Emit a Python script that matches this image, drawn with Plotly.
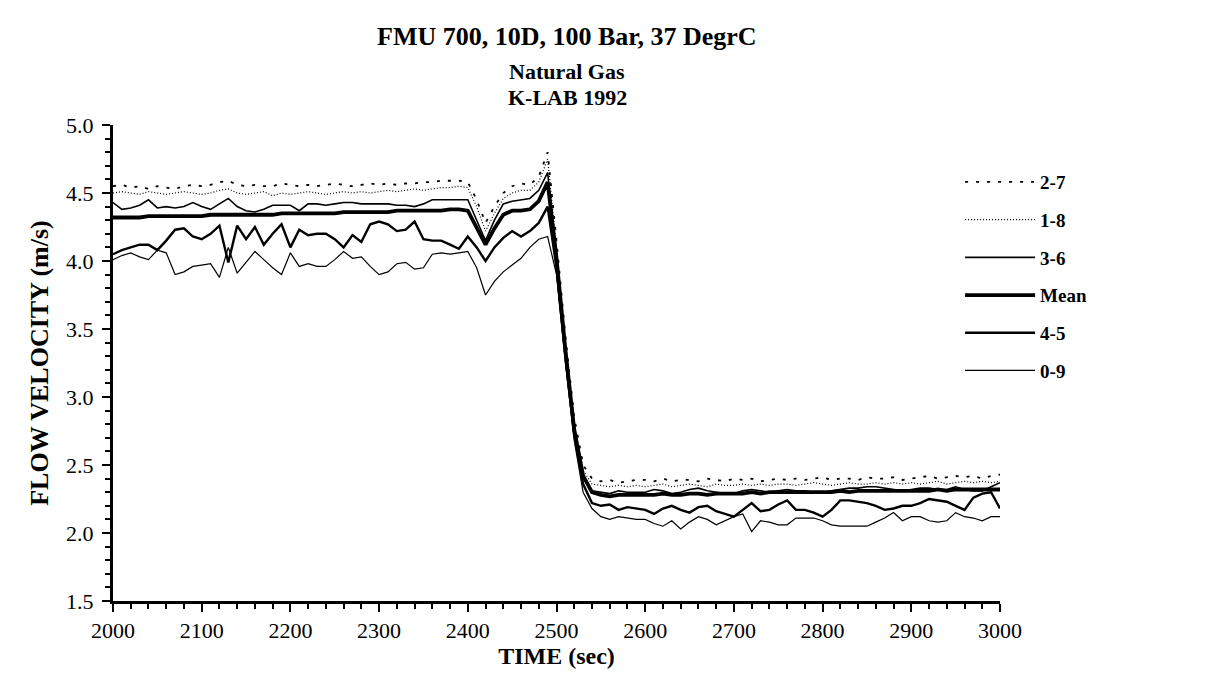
import plotly.graph_objects as go

# ---------------- data ----------------
time_s = list(range(2000, 3001, 10))

s27 = [4.55, 4.56, 4.54, 4.55, 4.53, 4.55, 4.54, 4.53, 4.55, 4.56,
       4.55, 4.56, 4.58, 4.59, 4.56, 4.55, 4.56, 4.55, 4.55, 4.57,
       4.56, 4.55, 4.56, 4.55, 4.56, 4.57, 4.56, 4.55, 4.56, 4.57,
       4.56, 4.57, 4.56, 4.57, 4.57, 4.58, 4.58, 4.59, 4.59, 4.59,
       4.58, 4.45, 4.28, 4.40, 4.50, 4.55, 4.57, 4.56, 4.62, 4.80,
       4.15, 3.45, 2.85, 2.50, 2.40, 2.38, 2.39, 2.37, 2.38, 2.39,
       2.39, 2.38, 2.40, 2.38, 2.39, 2.39, 2.38, 2.40, 2.39, 2.38,
       2.40, 2.39, 2.40, 2.38, 2.39, 2.40, 2.39, 2.40, 2.39, 2.40,
       2.41, 2.39, 2.40, 2.40, 2.39, 2.41, 2.40, 2.40, 2.41, 2.39,
       2.40, 2.41, 2.42, 2.40, 2.41, 2.42, 2.41, 2.42, 2.40, 2.42,
       2.43]

s18 = [4.50, 4.51, 4.50, 4.49, 4.51, 4.50, 4.49, 4.50, 4.51, 4.50,
       4.49, 4.50, 4.52, 4.53, 4.50, 4.49, 4.50, 4.51, 4.48, 4.50,
       4.49, 4.50, 4.51, 4.50, 4.49, 4.50, 4.51, 4.50, 4.51, 4.50,
       4.51, 4.52, 4.51, 4.52, 4.53, 4.52, 4.53, 4.54, 4.54, 4.55,
       4.54, 4.40, 4.22, 4.35, 4.46, 4.50, 4.52, 4.52, 4.58, 4.75,
       4.10, 3.40, 2.80, 2.46, 2.36, 2.35, 2.34, 2.35, 2.34, 2.35,
       2.34, 2.35, 2.36, 2.34, 2.35, 2.36, 2.35, 2.34, 2.36, 2.35,
       2.35, 2.36, 2.35, 2.36, 2.35, 2.36, 2.36, 2.35, 2.36, 2.37,
       2.36, 2.35, 2.36, 2.37, 2.36, 2.36, 2.37, 2.36, 2.37, 2.36,
       2.37, 2.36, 2.37, 2.38, 2.36, 2.37, 2.38, 2.37, 2.38, 2.37,
       2.38]

s36 = [4.43, 4.38, 4.39, 4.41, 4.45, 4.39, 4.40, 4.39, 4.40, 4.43,
       4.40, 4.38, 4.42, 4.46, 4.40, 4.37, 4.36, 4.38, 4.41, 4.41,
       4.41, 4.37, 4.42, 4.42, 4.41, 4.42, 4.43, 4.43, 4.42, 4.42,
       4.42, 4.42, 4.41, 4.41, 4.40, 4.42, 4.45, 4.45, 4.45, 4.45,
       4.45, 4.30, 4.15, 4.30, 4.42, 4.44, 4.45, 4.46, 4.52, 4.65,
       4.05, 3.37, 2.78, 2.42, 2.31, 2.30, 2.29, 2.31, 2.30, 2.30,
       2.30, 2.32, 2.31, 2.29, 2.30, 2.32, 2.33, 2.31, 2.30, 2.29,
       2.29, 2.31, 2.32, 2.31, 2.30, 2.31, 2.32, 2.31, 2.31, 2.30,
       2.30, 2.31, 2.32, 2.33, 2.33, 2.34, 2.34, 2.33, 2.32, 2.31,
       2.32, 2.33, 2.33, 2.32, 2.32, 2.34, 2.32, 2.31, 2.31, 2.34,
       2.37]

mean = [4.32, 4.32, 4.32, 4.32, 4.33, 4.33, 4.33, 4.33, 4.33, 4.33,
        4.33, 4.34, 4.34, 4.34, 4.34, 4.34, 4.34, 4.34, 4.34, 4.35,
        4.35, 4.35, 4.35, 4.35, 4.35, 4.35, 4.36, 4.36, 4.36, 4.36,
        4.36, 4.36, 4.37, 4.37, 4.37, 4.37, 4.37, 4.37, 4.38, 4.38,
        4.37, 4.25, 4.12, 4.24, 4.34, 4.37, 4.37, 4.38, 4.44, 4.58,
        4.02, 3.35, 2.76, 2.42, 2.30, 2.28, 2.27, 2.28, 2.28, 2.28,
        2.28, 2.28, 2.29, 2.28, 2.28, 2.29, 2.29, 2.28, 2.29, 2.29,
        2.29, 2.29, 2.30, 2.29, 2.30, 2.30, 2.30, 2.30, 2.30, 2.30,
        2.30, 2.30, 2.31, 2.30, 2.31, 2.31, 2.31, 2.31, 2.31, 2.31,
        2.31, 2.31, 2.31, 2.32, 2.31, 2.32, 2.32, 2.32, 2.32, 2.32,
        2.32]

s45 = [4.05, 4.08, 4.10, 4.12, 4.12, 4.08, 4.15, 4.23, 4.24, 4.18,
       4.16, 4.20, 4.26, 3.99, 4.26, 4.16, 4.25, 4.12, 4.20, 4.27,
       4.10, 4.23, 4.19, 4.20, 4.20, 4.16, 4.10, 4.19, 4.14, 4.27,
       4.29, 4.27, 4.22, 4.23, 4.29, 4.16, 4.15, 4.15, 4.12, 4.09,
       4.18, 4.10, 4.00, 4.10, 4.17, 4.22, 4.18, 4.22, 4.28, 4.40,
       3.95, 3.30, 2.72, 2.36, 2.22, 2.20, 2.21, 2.17, 2.19, 2.18,
       2.17, 2.14, 2.18, 2.20, 2.17, 2.15, 2.19, 2.20, 2.16, 2.14,
       2.12, 2.17, 2.22, 2.16, 2.17, 2.21, 2.24, 2.17, 2.17, 2.15,
       2.12, 2.17, 2.24, 2.24, 2.23, 2.22, 2.20, 2.17, 2.18, 2.20,
       2.20, 2.22, 2.25, 2.24, 2.23, 2.20, 2.17, 2.26, 2.29, 2.30,
       2.18]

s09 = [4.01, 4.04, 4.06, 4.03, 4.01, 4.08, 4.06, 3.90, 3.92, 3.96,
       3.97, 3.98, 3.88, 4.10, 3.91, 3.99, 4.07, 4.01, 3.95, 3.90,
       4.06, 3.96, 3.98, 3.96, 3.96, 4.01, 4.07, 4.02, 4.03, 3.96,
       3.90, 3.92, 3.98, 3.99, 3.94, 3.95, 4.05, 4.06, 4.05, 4.06,
       4.07, 3.95, 3.75, 3.85, 3.92, 3.97, 4.02, 4.10, 4.16, 4.18,
       3.90, 3.25, 2.68, 2.30, 2.18, 2.12, 2.10, 2.12, 2.11, 2.10,
       2.10, 2.07, 2.05, 2.09, 2.03, 2.08, 2.12, 2.10, 2.06, 2.09,
       2.12, 2.14, 2.01, 2.09, 2.08, 2.06, 2.06, 2.11, 2.11, 2.11,
       2.09, 2.06, 2.05, 2.05, 2.05, 2.05, 2.08, 2.11, 2.15, 2.09,
       2.12, 2.12, 2.09, 2.08, 2.09, 2.15, 2.12, 2.11, 2.09, 2.12,
       2.12]

series_names = ["2-7", "1-8", "3-6", "Mean", "4-5", "0-9"]
series_vals = [s27, s18, s36, mean, s45, s09]
y_ticks = [1.5, 2.0, 2.5, 3.0, 3.5, 4.0, 4.5, 5.0]
x_ticks = [2000, 2100, 2200, 2300, 2400, 2500, 2600, 2700, 2800, 2900, 3000]

# ---------------- styling ----------------
styles = {
    "2-7": dict(width=1.8, dash="3px,8px"),
    "1-8": dict(width=1.2, dash="1px,2px"),
    "3-6": dict(width=1.6, dash="solid"),
    "Mean": dict(width=3.8, dash="solid"),
    "4-5": dict(width=2.4, dash="solid"),
    "0-9": dict(width=1.2, dash="solid"),
}
SERIF = "Liberation Serif, Times New Roman, serif"

fig = go.Figure()
for name, vals in zip(series_names, series_vals):
    st = styles[name]
    fig.add_trace(go.Scatter(
        x=time_s, y=vals, mode="lines", name=name, legendgroup=name,
        line=dict(color="black", width=st["width"], dash=st["dash"]),
    ))

TOP, BOTTOM = 125, 601
axis_common = dict(
    showgrid=False, zeroline=False, showline=True, linecolor="black",
    linewidth=3, ticks="outside", tickcolor="black", tickwidth=2,
    tickfont=dict(family=SERIF, size=22, color="black"),
)

fig.update_layout(
    width=1230, height=684,
    paper_bgcolor="white", plot_bgcolor="white",
    margin=dict(l=113, r=230, t=TOP, b=684 - BOTTOM),
    xaxis=dict(range=[2000, 3000], tickvals=x_ticks, ticklen=8,
               minor=dict(ticks="outside", dtick=20, ticklen=5, tickwidth=2, tickcolor="black"),
               title=dict(text="<b>TIME (sec)</b>", standoff=3,
                          font=dict(family=SERIF, size=24, color="black")),
               **axis_common),
    yaxis=dict(range=[1.5, 5.0], tickvals=y_ticks, tickformat=".1f", ticklen=8,
               ticklabelstandoff=4,
               minor=dict(ticks="outside", dtick=0.1, ticklen=5, tickwidth=2, tickcolor="black"),
               title=dict(text="<b>FLOW VELOCITY (m/s)</b>", standoff=10,
                          font=dict(family=SERIF, size=26, color="black")),
               **axis_common),
    xaxis2=dict(range=[2000, 3000], overlaying="x", anchor="y", side="bottom",
                tickvals=x_ticks, ticks="inside", ticklen=7, tickwidth=2,
                tickcolor="black", showticklabels=False, showgrid=False,
                zeroline=False, showline=False),
    yaxis2=dict(range=[1.5, 5.0], overlaying="y", anchor="x", side="left",
                tickvals=y_ticks, ticks="inside", ticklen=7, tickwidth=2,
                tickcolor="black", showticklabels=False, showgrid=False,
                zeroline=False, showline=False),
    showlegend=True,
    legend=dict(x=0.955, y=0.92, xanchor="left", yanchor="top",
                bgcolor="rgba(255,255,255,0)", tracegroupgap=10, itemwidth=70,
                font=dict(family=SERIF, size=19, color="black", weight="bold")),
    annotations=[
        dict(text="<b>FMU 700, 10D, 100 Bar, 37 DegrC</b>", x=0.512, y=36,
             xref="paper", yref="paper", showarrow=False,
             font=dict(family=SERIF, size=26, color="black")),
        dict(text="<b>Natural Gas</b>", x=0.512, y=72,
             xref="paper", yref="paper", showarrow=False,
             font=dict(family=SERIF, size=22, color="black")),
        dict(text="<b>K-LAB 1992</b>", x=0.512, y=98,
             xref="paper", yref="paper", showarrow=False,
             font=dict(family=SERIF, size=22, color="black")),
    ],
)

# convert the title pixel rows above into paper coordinates
for ann in fig.layout.annotations:
    ann.y = (BOTTOM - ann.y) / (BOTTOM - TOP)
    ann.yanchor = "middle"

fig.write_html("out.html")
